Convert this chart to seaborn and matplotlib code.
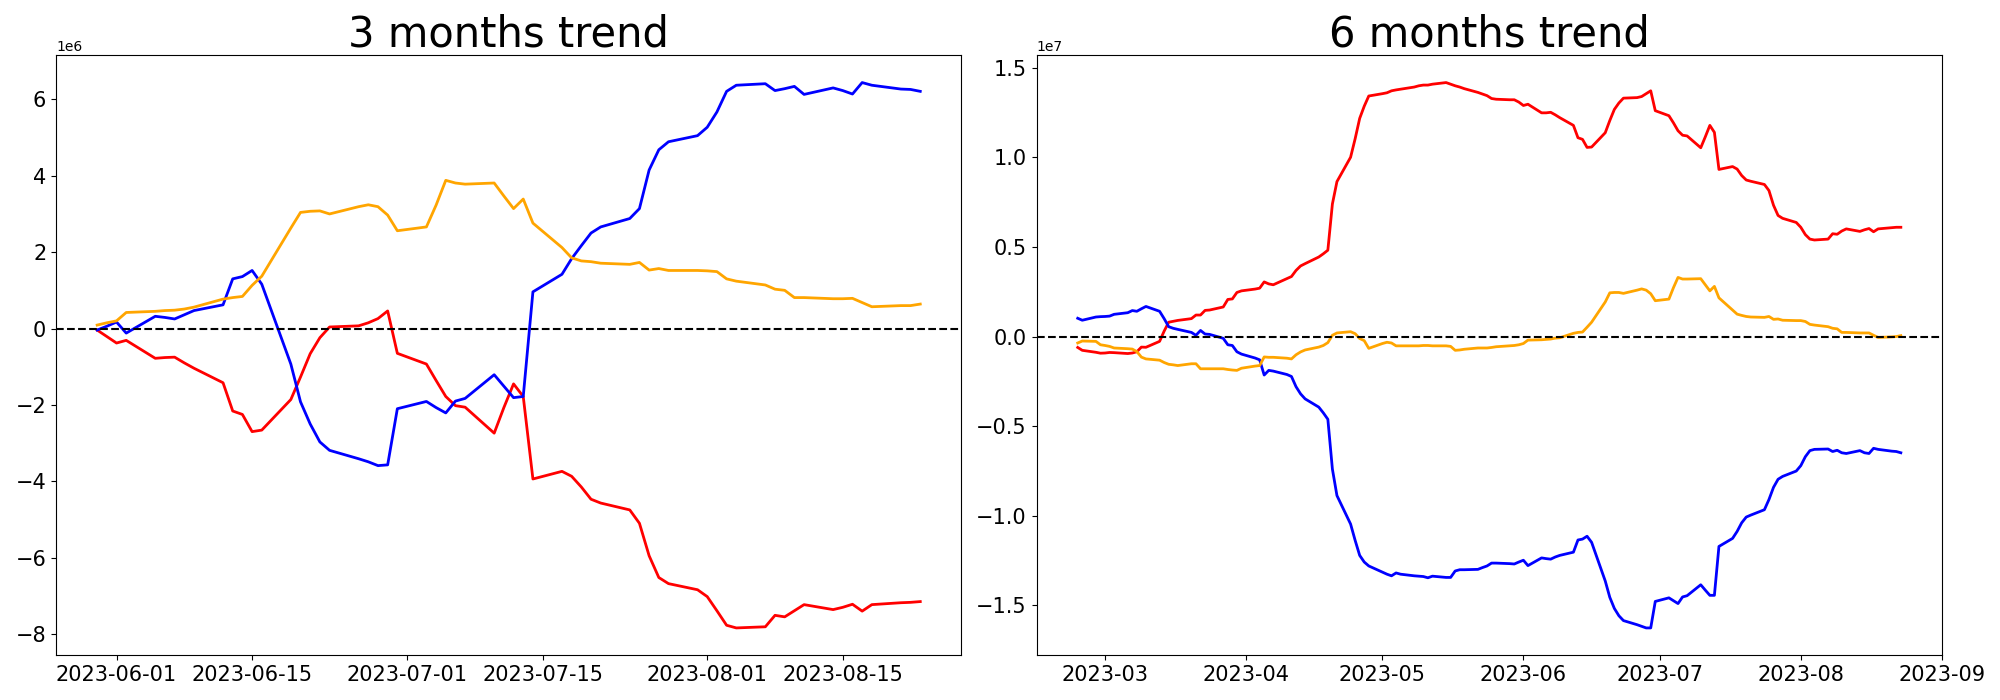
"""Two-panel trend chart: 3 months and 6 months cumulative flows."""

import matplotlib

matplotlib.use("Agg")

import matplotlib.dates as mdates
import matplotlib.pyplot as plt
import pandas as pd
import seaborn as sns


# ---- 3 months panel (values in 1e6), business days 2023-05-30 .. 2023-08-23
dates_3m = pd.bdate_range("2023-05-30", "2023-08-23")

red_3m = [
    -0.04, -0.21, -0.38, -0.31, -0.78, -0.76, -0.75, -0.90, -1.04, -1.42,
    -2.16, -2.25, -2.70, -2.66, -1.86, -1.27, -0.66, -0.24, 0.04, 0.07,
    0.15, 0.26, 0.46, -0.65, -0.93, -1.36, -1.78, -2.02, -2.06, -2.74,
    -2.07, -1.45, -1.78, -3.94, -3.74, -3.87, -4.15, -4.47, -4.57, -4.75,
    -5.10, -5.95, -6.52, -6.68, -6.84, -7.02, -7.39, -7.77, -7.84, -7.81,
    -7.51, -7.55, -7.39, -7.23, -7.36, -7.30, -7.22, -7.40, -7.23, -7.18,
    -7.17, -7.15,
]
blue_3m = [
    -0.04, 0.06, 0.17, -0.12, 0.32, 0.29, 0.25, 0.36, 0.47, 0.62,
    1.30, 1.36, 1.52, 1.16, -0.93, -1.92, -2.50, -2.97, -3.19, -3.41,
    -3.49, -3.59, -3.57, -2.10, -1.91, -2.07, -2.21, -1.90, -1.83, -1.21,
    -1.51, -1.81, -1.78, 0.96, 1.42, 1.83, 2.17, 2.50, 2.66, 2.88,
    3.14, 4.15, 4.68, 4.89, 5.05, 5.27, 5.67, 6.21, 6.37, 6.41,
    6.23, 6.28, 6.34, 6.13, 6.30, 6.23, 6.14, 6.44, 6.37, 6.27,
    6.26, 6.21,
]
orange_3m = [
    0.09, 0.15, 0.20, 0.42, 0.45, 0.47, 0.48, 0.51, 0.56, 0.77,
    0.81, 0.84, 1.13, 1.37, 2.63, 3.04, 3.07, 3.08, 3.00, 3.19,
    3.24, 3.19, 2.97, 2.56, 2.66, 3.23, 3.88, 3.81, 3.78, 3.81,
    3.47, 3.14, 3.39, 2.76, 2.12, 1.85, 1.77, 1.75, 1.71, 1.68,
    1.73, 1.53, 1.57, 1.52, 1.52, 1.51, 1.49, 1.30, 1.24, 1.14,
    1.03, 1.00, 0.81, 0.81, 0.78, 0.78, 0.79, 0.68, 0.57, 0.60,
    0.60, 0.64,
]

# ---- 6 months panel (values in 1e7), business days 2023-02-23 .. 2023-08-23
dates_6m = pd.bdate_range("2023-02-23", "2023-08-23")

red_6m = (
    # Feb
    [-0.061, -0.077, -0.088, -0.093]
    # Mar
    + [-0.092, -0.089, -0.090, -0.095, -0.092, -0.085, -0.059, -0.060, -0.027, 0.030,
       0.080, 0.085, 0.090, 0.100, 0.120, 0.120, 0.146, 0.148, 0.165, 0.207,
       0.210, 0.246, 0.255]
    # Apr
    + [0.265, 0.270, 0.305, 0.294, 0.289, 0.323, 0.335, 0.369, 0.394, 0.407,
       0.444, 0.462, 0.482, 0.740, 0.865, 1.001, 1.104, 1.218, 1.286, 1.343]
    # May
    + [1.356, 1.361, 1.372, 1.377, 1.381, 1.393, 1.400, 1.404, 1.404, 1.409,
       1.418, 1.409, 1.400, 1.393, 1.384, 1.363, 1.354, 1.345, 1.329, 1.325,
       1.322, 1.322, 1.309]
    # Jun
    + [1.290, 1.297, 1.249, 1.249, 1.252, 1.238, 1.222, 1.179, 1.110, 1.101,
       1.056, 1.058, 1.138, 1.206, 1.268, 1.304, 1.331, 1.334, 1.340, 1.356,
       1.372, 1.261]
    # Jul
    + [1.233, 1.193, 1.149, 1.124, 1.120, 1.054, 1.115, 1.179, 1.140, 0.933,
       0.949, 0.935, 0.899, 0.874, 0.867, 0.849, 0.815, 0.733, 0.676, 0.660,
       0.637]
    # Aug
    + [0.610, 0.569, 0.544, 0.539, 0.544, 0.574, 0.571, 0.589, 0.601, 0.587,
       0.596, 0.603, 0.585, 0.601, 0.608, 0.610, 0.610]
)
blue_6m = (
    [0.102, 0.091, 0.109, 0.111]
    + [0.112, 0.114, 0.124, 0.133, 0.145, 0.141, 0.155, 0.168, 0.141, 0.100,
       0.055, 0.046, 0.040, 0.023, 0.007, 0.034, 0.014, 0.012, -0.010, -0.046,
       -0.050, -0.085, -0.098]
    + [-0.120, -0.130, -0.215, -0.189, -0.193, -0.212, -0.223, -0.280, -0.320, -0.348,
       -0.394, -0.426, -0.462, -0.740, -0.888, -1.047, -1.138, -1.222, -1.259, -1.281]
    + [-1.315, -1.327, -1.336, -1.320, -1.327, -1.336, -1.338, -1.340, -1.347, -1.338,
       -1.345, -1.345, -1.309, -1.302, -1.302, -1.300, -1.290, -1.281, -1.265, -1.265,
       -1.268, -1.270, -1.259]
    + [-1.249, -1.279, -1.236, -1.240, -1.243, -1.231, -1.222, -1.204, -1.136, -1.131,
       -1.115, -1.149, -1.365, -1.456, -1.518, -1.559, -1.586, -1.609, -1.618, -1.627,
       -1.627, -1.479]
    + [-1.459, -1.475, -1.491, -1.454, -1.447, -1.386, -1.416, -1.445, -1.445, -1.172,
       -1.127, -1.088, -1.040, -1.008, -0.997, -0.967, -0.910, -0.842, -0.797, -0.781,
       -0.751]
    + [-0.721, -0.671, -0.637, -0.630, -0.628, -0.642, -0.635, -0.649, -0.653, -0.637,
       -0.649, -0.653, -0.624, -0.630, -0.640, -0.642, -0.649]
)
orange_6m = (
    [-0.036, -0.025, -0.027, -0.046]
    + [-0.050, -0.055, -0.064, -0.068, -0.070, -0.084, -0.115, -0.125, -0.132, -0.145,
       -0.155, -0.158, -0.162, -0.152, -0.152, -0.180, -0.180, -0.180, -0.180, -0.184,
       -0.187, -0.189, -0.177]
    + [-0.165, -0.162, -0.114, -0.116, -0.116, -0.121, -0.125, -0.102, -0.086, -0.075,
       -0.059, -0.050, -0.034, 0.007, 0.020, 0.027, 0.016, -0.011, -0.023, -0.066]
    + [-0.039, -0.032, -0.036, -0.052, -0.052, -0.052, -0.052, -0.050, -0.050, -0.052,
       -0.052, -0.055, -0.077, -0.075, -0.071, -0.064, -0.064, -0.064, -0.061, -0.057,
       -0.052, -0.050, -0.046]
    + [-0.039, -0.020, -0.018, -0.016, -0.014, -0.009, -0.007, 0.018, 0.023, 0.025,
       0.052, 0.080, 0.193, 0.244, 0.246, 0.246, 0.241, 0.259, 0.266, 0.259,
       0.239, 0.200]
    + [0.209, 0.273, 0.330, 0.321, 0.321, 0.323, 0.289, 0.255, 0.280, 0.216,
       0.148, 0.125, 0.118, 0.112, 0.109, 0.107, 0.112, 0.096, 0.098, 0.091,
       0.089]
    + [0.089, 0.084, 0.068, 0.064, 0.055, 0.046, 0.043, 0.023, 0.023, 0.020,
       0.020, 0.020, 0.007, -0.005, -0.002, 0.000, 0.005]
)

SERIES_COLORS = ["red", "blue", "orange"]


def _frame(dates, scale, red, blue, orange) -> pd.DataFrame:
    data = pd.DataFrame({"date": dates, "red": red, "blue": blue, "orange": orange})
    for column in SERIES_COLORS:
        data[column] = data[column] * scale
    return data


def _draw_panel(ax, data: pd.DataFrame, title: str) -> None:
    for color in SERIES_COLORS:
        sns.lineplot(data=data, x="date", y=color, color=color, linewidth=2, ax=ax)
    ax.axhline(0, color="black", linestyle="--", linewidth=1.5)
    ax.set_title(title, fontsize=30)
    ax.set_xlabel("")
    ax.set_ylabel("")
    ax.tick_params(labelsize=15)


fig, axes = plt.subplots(1, 2, figsize=(20, 7))

panel_3m = _frame(dates_3m, 1e6, red_3m, blue_3m, orange_3m)
panel_6m = _frame(dates_6m, 1e7, red_6m, blue_6m, orange_6m)

_draw_panel(axes[0], panel_3m, "3 months trend")
axes[0].xaxis.set_major_locator(mdates.DayLocator(bymonthday=[1, 15]))
axes[0].xaxis.set_major_formatter(mdates.DateFormatter("%Y-%m-%d"))

_draw_panel(axes[1], panel_6m, "6 months trend")
axes[1].xaxis.set_major_locator(mdates.MonthLocator())
axes[1].xaxis.set_major_formatter(mdates.DateFormatter("%Y-%m"))

fig.subplots_adjust(left=0.028, right=0.971, bottom=0.064, top=0.921, wspace=0.083)
fig.savefig("out.png", dpi=100)
plt.close(fig)
